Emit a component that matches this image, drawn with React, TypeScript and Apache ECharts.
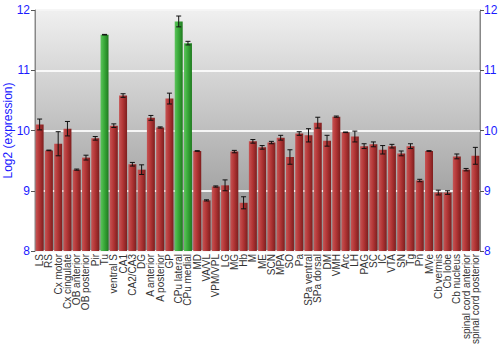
import React, { useEffect, useRef } from "react";
import * as echarts from "echarts";

const categories = [
  "LS", "RS", "Cx motor", "Cx cingulate", "OB anterior", "OB posterior", "Pir", "Tu",
  "ventral S", "CA1", "CA2/CA3", "DG", "A anterior", "A posterior", "GP", "CPu lateral",
  "CPu medial", "MD", "VA/VL", "VPM/VPL", "LG", "MG", "Hb", "M", "ME", "SCN", "MPA", "SO",
  "Pa", "SPa ventral", "SPa dorsal", "DM", "VMH", "Arc", "LH", "PAG", "SC", "IC", "VTA",
  "SN", "Tg", "Pn", "MVe", "Cb vermis", "Cb lobe", "Cb nucleus", "spinal cord anterior",
  "spinal cord posterior",
];

const values = [
  10.1, 9.67, 9.78, 10.03, 9.35, 9.55, 9.87, 11.59,
  10.08, 10.58, 9.44, 9.35, 10.21, 10.05, 10.53, 11.81,
  11.45, 9.66, 8.84, 9.07, 9.09, 9.65, 8.8, 9.82, 9.72, 9.8, 9.88, 9.56,
  9.95, 9.92, 10.13, 9.83, 10.23, 9.97, 9.9, 9.74, 9.77, 9.68, 9.74,
  9.62, 9.74, 9.17, 9.66, 8.97, 8.97, 9.57, 9.35,
  9.58,
];

const errors = [
  0.09, 0.005, 0.2, 0.12, 0.01, 0.04, 0.03, 0.005,
  0.03, 0.03, 0.03, 0.08, 0.04, 0.01, 0.09, 0.09,
  0.03, 0.005, 0.01, 0.01, 0.09, 0.02, 0.1, 0.03, 0.03, 0.02, 0.04, 0.12,
  0.03, 0.11, 0.09, 0.09, 0.01, 0.005, 0.09, 0.04, 0.04, 0.07, 0.03,
  0.04, 0.04, 0.02, 0.005, 0.04, 0.03, 0.04, 0.02,
  0.14,
];

const highlighted = ["Tu", "CPu lateral", "CPu medial"];

const yTicks = [8, 9, 10, 11, 12];

const redGrad = new echarts.graphic.LinearGradient(0, 0, 1, 0, [
  { offset: 0, color: "#c65454" },
  { offset: 0.45, color: "#b33636" },
  { offset: 1, color: "#7e1e1e" },
]);
const greenGrad = new echarts.graphic.LinearGradient(0, 0, 1, 0, [
  { offset: 0, color: "#5cc45c" },
  { offset: 0.45, color: "#3aaa3a" },
  { offset: 1, color: "#1f7a1f" },
]);

export default function App() {
  const ref = useRef<HTMLDivElement>(null);
  useEffect(() => {
    if (!ref.current) return;
    document.body.style.margin = "0";
    const chart = echarts.init(ref.current, null, { renderer: "svg" });
    const font = "Liberation Sans, Arial, sans-serif";
    const yAxisBase = {
      type: "value",
      min: yTicks[0],
      max: yTicks[yTicks.length - 1],
      interval: 1,
      axisLine: { show: true, lineStyle: { color: "#888", width: 1 } },
      axisTick: { show: true, length: 4, lineStyle: { color: "#555" } },
      axisLabel: { color: "#1a1aff", fontSize: 12, fontFamily: font, margin: 5 },
      splitLine: { show: true, lineStyle: { color: "#ffffff", width: 2, opacity: 0.85 } },
    };
    chart.setOption({
      animation: false,
      grid: {
        left: 35,
        right: 20,
        top: 10,
        bottom: 99,
        outerBoundsMode: "none",
        containLabel: false,
        show: true,
        borderColor: "#888",
        borderWidth: 1,
        backgroundColor: new echarts.graphic.LinearGradient(0, 0, 0, 1, [
          { offset: 0, color: "#f0f0f0" },
          { offset: 1, color: "#8c8c8c" },
        ]),
      },
      xAxis: {
        type: "category",
        data: categories,
        axisLine: { show: false },
        axisTick: { show: false },
        axisLabel: {
          interval: 0,
          rotate: 90,
          fontSize: 10,
          color: "#333",
          fontFamily: font,
          margin: 3,
        },
      },
      yAxis: [
        {
          ...yAxisBase,
          name: "Log2 (expression)",
          nameLocation: "middle",
          nameGap: 21,
          nameMoveOverlap: false,
          nameTextStyle: { color: "#1a1aff", fontSize: 12, fontFamily: font },
        },
        {
          ...yAxisBase,
          position: "right",
          axisLabel: { ...yAxisBase.axisLabel, margin: 4 },
          splitLine: { show: false },
        },
      ],
      series: [
        {
          type: "bar",
          barWidth: "86%",
          data: values.map((v, i) => ({
            value: v,
            itemStyle: {
              color: highlighted.includes(categories[i]) ? greenGrad : redGrad,
            },
          })),
        },
        {
          type: "custom",
          z: 10,
          data: values.map((v, i) => [i, v - errors[i], v + errors[i]]),
          renderItem: (params: any, api: any) => {
            const x = api.value(0);
            const lo = api.coord([x, api.value(1)]);
            const hi = api.coord([x, api.value(2)]);
            const hw = 2.5;
            const style = { stroke: "#111", lineWidth: 1 };
            return {
              type: "group",
              children: [
                { type: "line", shape: { x1: lo[0], y1: lo[1], x2: hi[0], y2: hi[1] }, style },
                { type: "line", shape: { x1: lo[0] - hw, y1: lo[1], x2: lo[0] + hw, y2: lo[1] }, style },
                { type: "line", shape: { x1: hi[0] - hw, y1: hi[1], x2: hi[0] + hw, y2: hi[1] }, style },
              ],
            };
          },
        },
      ],
    });
    return () => chart.dispose();
  }, []);
  return <div ref={ref} style={{ width: 500, height: 350 }} />;
}
